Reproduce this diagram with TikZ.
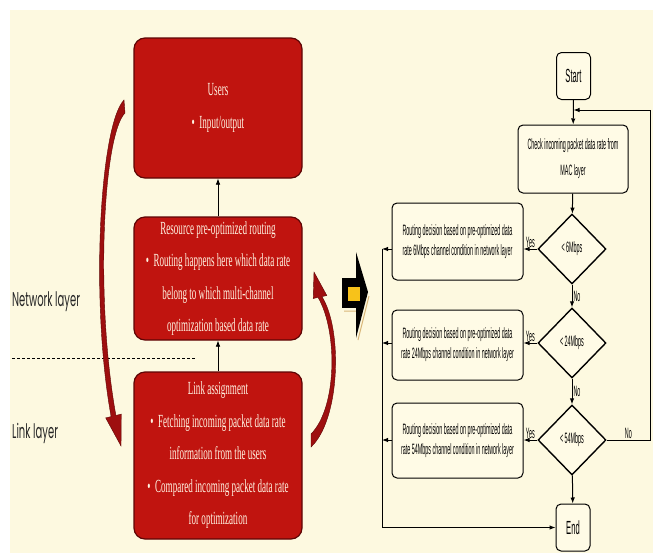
\documentclass[tikz,border=0pt]{standalone}
\usepackage{fontspec}
\usetikzlibrary{shapes.geometric,arrows.meta}
\newfontfamily\redfont[FakeStretch=0.49]{Liberation Serif}
\newfontfamily\flowfont[FakeStretch=0.36]{Liberation Sans}
\newfontfamily\bigflowfont[FakeStretch=0.4]{Liberation Sans}
\newfontfamily\layerfont[FakeStretch=0.5]{Poppins}
\definecolor{cream}{HTML}{FDF9E0}
\definecolor{boxred}{HTML}{C0140F}
\definecolor{edgered}{HTML}{5E0505}
\definecolor{swoosh}{HTML}{9E0F0F}
\definecolor{flowfill}{HTML}{FFFBE6}
\definecolor{textcream}{HTML}{FFF3E2}
\definecolor{gold}{HTML}{F7C21A}
\definecolor{shadowtan}{HTML}{D9B77A}
\begin{document}
\begin{tikzpicture}[x=1pt,y=-1pt,
  redbox/.style={draw=edgered,line width=1.2pt,fill=boxred,rounded corners=11pt,
    text=textcream,align=center,minimum width=168pt,
    font=\redfont\fontsize{18.5}{32.5}\selectfont},
  flowbox/.style={draw=black,line width=1pt,fill=flowfill,rounded corners=5pt,
    align=center,inner sep=1pt,font=\flowfont\fontsize{15}{20}\selectfont},
  endbox/.style={flowbox,minimum width=34pt,minimum height=47pt,
    font=\bigflowfont\fontsize{19}{20}\selectfont},
  decision/.style={diamond,draw=black,line width=1.4pt,fill=flowfill,inner sep=0pt,
    minimum width=68pt,minimum height=70pt,font=\flowfont\fontsize{15}{15}\selectfont},
  flowlabel/.style={font=\flowfont\fontsize{15}{15}\selectfont,inner sep=1pt},
  layer/.style={anchor=west,inner sep=0pt,text=black!85,
    font=\layerfont\fontsize{20}{20}\selectfont},
  >={Latex[length=6pt,width=4.5pt]}]
  \useasboundingbox (0,0) rectangle (657,555);
  \fill[cream] (10,10) rectangle (653,553);

  % left side: layers
  \node[layer] (net) at (12,302) {Network layer};
  \node[layer] (lnk) at (12,433) {Link layer};
  \draw[densely dashed,line width=0.8pt] (12,358) -- (195,358);

  \node[redbox,minimum height=140pt] (users) at (218,108)
    {Users\\\textbullet\ \ Input/output};
  \node[redbox,minimum height=123pt] (route) at (218,278.5)
    {Resource pre-optimized routing\\\textbullet\ \ Routing happens here which data rate\\
     belong to which multi-channel\\optimization based data rate};
  \node[redbox,minimum height=167pt] (link) at (218,455.5)
    {Link assignment\\\textbullet\ \ Fetching incoming packet data rate\\
     information from the users\\\textbullet\ \ Compared incoming packet data rate\\
     for optimization};
  \begin{scope}[->,line width=0.7pt]
    \draw (route) -- (users);
    \draw (link) -- (route);
  \end{scope}

  % swooshes
  \fill[swoosh,draw=edgered,line width=0.4pt] (124,100)
    .. controls (100,125) and (90,300) .. (111.1,416.6) -- (105.7,417.9)
    -- (121,446) -- (121.3,414.1) -- (115.9,415.4)
    .. controls (95,300) and (103,135) .. (125,113) -- cycle;
  \fill[swoosh,draw=edgered,line width=0.4pt] (311,447)
    .. controls (340,420) and (343,330) .. (321.9,296.6) -- (326.8,295.5)
    -- (314,272) -- (313.2,298.5) -- (318.1,297.4)
    .. controls (338,332) and (337,408) .. (311,434) -- cycle;

  % middle arrow
  \draw[shadowtan,line width=1pt] (344,311) -- (356,311) (369,296) -- (358,340);
  \fill[black] (342,278) rectangle (358,308);
  \fill[black] (356,252) -- (368,292) -- (356,338) -- cycle;
  \fill[gold,draw=black,line width=0.8pt] (347,286) rectangle (360,301);

  % flowchart
  \node[endbox] (start) at (573.5,76) {Start};
  \node[flowbox,minimum width=110pt,minimum height=68pt,
    font=\flowfont\fontsize{15}{26}\selectfont] (check) at (573,159)
    {Check incoming packet data rate from\\MAC layer};
  \node[decision] (d6) at (572,249) {< 6Mbps};
  \node[decision] (d24) at (572,343) {< 24Mbps};
  \node[decision] (d54) at (572,440) {< 54Mbps};
  \node[flowbox,minimum width=131pt,minimum height=77pt] (r6) at (457.5,241.5)
    {Routing decision based on pre-optimized data\\rate 6Mbps channel condition in network layer};
  \node[flowbox,minimum width=131pt,minimum height=70pt] (r24) at (457.5,345)
    {Routing decision based on pre-optimized data\\rate 24Mbps channel condition in network layer};
  \node[flowbox,minimum width=131pt,minimum height=75pt] (r54) at (457.5,440.5)
    {Routing decision based on pre-optimized data\\rate 54Mbps channel condition in network layer};
  \node[endbox] (end) at (573,527.5) {End};
  \coordinate (bus) at (382,249);
  \coordinate (loop) at (650,110);

  \begin{scope}[->,line width=1pt]
    \draw (start) -- (check);
    \draw (check) -- (d6);
    \draw (d6) -- node[flowlabel,right] {No} (d24);
    \draw (d24) -- node[flowlabel,right] {No} (d54);
    \draw (d54) -- (end);
    \draw (d6.west) -- node[flowlabel,above] {Yes} (d6.west -| r6.east);
    \draw (d24.west) -- node[flowlabel,above] {Yes} (d24.west -| r24.east);
    \draw (d54.west) -- node[flowlabel,above] {Yes} (d54.west -| r54.east);
    \draw (r6.west |- d6) -- (bus |- d6);
    \draw (r24.west |- d24) -- (bus |- d24);
    \draw (r54.west |- d54) -- (bus |- d54);
    \draw (bus |- d6) -- (bus |- end.west) -- (end.west);
    \draw (d54.east) -- node[flowlabel,above] {No} (d54.east -| loop)
      -- (loop) -- (loop -| start);
  \end{scope}
\end{tikzpicture}
\end{document}
